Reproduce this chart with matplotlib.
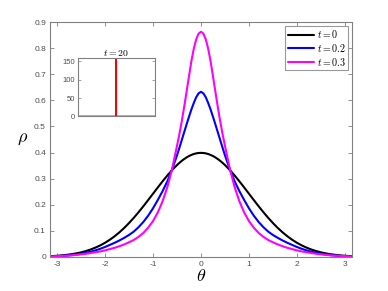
import matplotlib
matplotlib.use("Agg")
import matplotlib.pyplot as plt
import numpy as np

plt.rcParams['mathtext.fontset'] = 'cm'
plt.rcParams['font.family'] = ['Liberation Sans', 'DejaVu Sans']

# ---- data ----
theta = [-3.1416, -3.1, -3.0, -2.9, -2.8, -2.7, -2.6, -2.5, -2.4, -2.3, -2.2, -2.1,
         -2.0, -1.9, -1.8, -1.7, -1.6, -1.5, -1.4, -1.3, -1.2, -1.1, -1.0, -0.9,
         -0.8, -0.7, -0.6, -0.5, -0.45, -0.4, -0.35, -0.3, -0.25, -0.2, -0.15,
         -0.1, -0.05, 0.0,
         0.05, 0.1, 0.15, 0.2, 0.25, 0.3, 0.35, 0.4, 0.45, 0.5, 0.6, 0.7, 0.8,
         0.9, 1.0, 1.1, 1.2, 1.3, 1.4, 1.5, 1.6, 1.7, 1.8, 1.9, 2.0, 2.1, 2.2,
         2.3, 2.4, 2.5, 2.6, 2.7, 2.8, 2.9, 3.0, 3.1, 3.1416]

rho_t0 = [0.0029, 0.0033, 0.0044, 0.0060, 0.0079, 0.0104, 0.0136, 0.0175, 0.0224,
          0.0283, 0.0355, 0.0440, 0.0540, 0.0656, 0.0790, 0.0940, 0.1109, 0.1295,
          0.1497, 0.1714, 0.1942, 0.2179, 0.2420, 0.2661, 0.2897, 0.3123, 0.3332,
          0.3521, 0.3605, 0.3683, 0.3752, 0.3814, 0.3867, 0.3910, 0.3945, 0.3970,
          0.3984, 0.3989,
          0.3984, 0.3970, 0.3945, 0.3910, 0.3867, 0.3814, 0.3752, 0.3683, 0.3605,
          0.3521, 0.3332, 0.3123, 0.2897, 0.2661, 0.2420, 0.2179, 0.1942, 0.1714,
          0.1497, 0.1295, 0.1109, 0.0940, 0.0790, 0.0656, 0.0540, 0.0440, 0.0355,
          0.0283, 0.0224, 0.0175, 0.0136, 0.0104, 0.0079, 0.0060, 0.0044, 0.0033,
          0.0029]

rho_t02 = [0.002, 0.002, 0.003, 0.004, 0.005, 0.007, 0.009, 0.012, 0.016, 0.020,
           0.025, 0.031, 0.038, 0.046, 0.054, 0.063, 0.073, 0.084, 0.097, 0.114,
           0.134, 0.158, 0.186, 0.218, 0.252, 0.290, 0.336, 0.389, 0.418, 0.448,
           0.478, 0.508, 0.537, 0.565, 0.590, 0.612, 0.627, 0.633,
           0.627, 0.612, 0.590, 0.565, 0.537, 0.508, 0.478, 0.448, 0.418, 0.389,
           0.336, 0.290, 0.252, 0.218, 0.186, 0.158, 0.134, 0.114, 0.097, 0.084,
           0.073, 0.063, 0.054, 0.046, 0.038, 0.031, 0.025, 0.020, 0.016, 0.012,
           0.009, 0.007, 0.005, 0.004, 0.003, 0.002, 0.002]

rho_t03 = [0.002, 0.002, 0.003, 0.004, 0.005, 0.006, 0.008, 0.010, 0.012, 0.015,
           0.018, 0.021, 0.025, 0.030, 0.035, 0.041, 0.048, 0.056, 0.065, 0.077,
           0.092, 0.112, 0.137, 0.170, 0.213, 0.268, 0.338, 0.425, 0.470, 0.520,
           0.575, 0.633, 0.692, 0.750, 0.798, 0.834, 0.856, 0.863,
           0.856, 0.834, 0.798, 0.750, 0.692, 0.633, 0.575, 0.520, 0.470, 0.425,
           0.338, 0.268, 0.213, 0.170, 0.137, 0.112, 0.092, 0.077, 0.065, 0.056,
           0.048, 0.041, 0.035, 0.030, 0.025, 0.021, 0.018, 0.015, 0.012, 0.010,
           0.008, 0.006, 0.005, 0.004, 0.003, 0.002, 0.002]

series_labels = [r'$t=0$', r'$t=0.2$', r'$t=0.3$']
series_colors = ['black', '#0000ff', '#ff00ff']

inset_theta = [-3.1416, -0.001, 0.0, 0.001, 3.1416]
inset_rho = [0.0, 0.0, 170.0, 0.0, 0.0]
inset_title = r'$t=20$'

xticks = [-3, -2, -1, 0, 1, 2, 3]
yticks = [0, 0.1, 0.2, 0.3, 0.4, 0.5, 0.6, 0.7, 0.8, 0.9]
inset_yticks = [0, 50, 100, 150]

# ---- figure ----
fig = plt.figure(figsize=(3.88, 2.91), dpi=100)
ax = fig.add_axes([0.129, 0.117, 0.778, 0.807])

for y, lab, col in zip([rho_t0, rho_t02, rho_t03], series_labels, series_colors):
    ax.plot(theta, y, color=col, lw=1.5, label=lab,
            solid_joinstyle='round', solid_capstyle='round')

ax.set_xlim(-np.pi, np.pi)
ax.set_ylim(0, 0.9)
ax.set_xticks(xticks)
ax.set_yticks(yticks)
ax.set_xticklabels([str(v) for v in xticks])
ax.set_yticklabels(['0'] + ['%.1f' % v for v in yticks[1:]])
gray = '#808080'
for s in ax.spines.values():
    s.set_color(gray)
    s.set_linewidth(0.8)
ax.tick_params(direction='in', length=3, width=0.6, color=gray,
               labelsize=6, labelcolor='#4d4d4d', top=True, right=True, pad=3)
ax.set_xlabel(r'$\theta$', fontsize=13, labelpad=0)
ax.set_ylabel(r'$\rho$', fontsize=13, rotation=0)
ax.yaxis.set_label_coords(-0.09, 0.47)

leg = ax.legend(loc='upper right', fontsize=7.2, frameon=True, fancybox=False,
                edgecolor=gray, handlelength=2.6, handletextpad=0.3,
                borderpad=0.25, labelspacing=0.18, borderaxespad=0.35)
leg.get_frame().set_linewidth(0.8)

# ---- inset ----
ins = fig.add_axes([0.200, 0.600, 0.199, 0.202])
ins.plot(inset_theta, inset_rho, color='#ff0000', lw=1.2)
ins.set_xlim(-np.pi, np.pi)
ins.set_ylim(0, 160)
ins.set_yticks(inset_yticks)
ins.set_xticks([])
for s in ins.spines.values():
    s.set_color(gray)
    s.set_linewidth(0.8)
ins.tick_params(direction='in', length=2, width=0.5, color=gray,
                labelsize=5.5, labelcolor='#4d4d4d', right=True, pad=2)
ins.set_title(inset_title, fontsize=7, pad=1.5)

fig.savefig('out.png', dpi=100)
